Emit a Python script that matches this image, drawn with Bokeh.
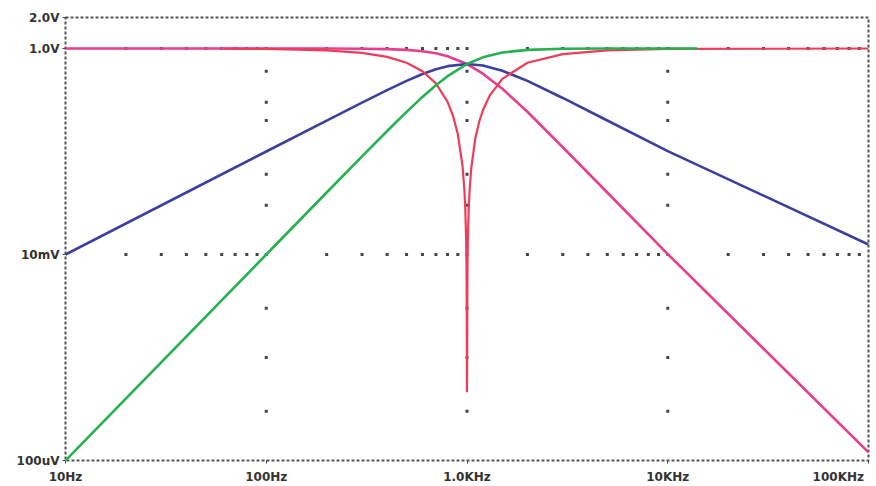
from bokeh.plotting import figure
from bokeh.models import Range1d, FixedTicker, CustomJSTickFormatter
from bokeh.embed import file_html
from bokeh.resources import INLINE

# ---- axes / ticks ----
freq_ticks = [10, 100, 1000, 10000, 100000]
freq_labels = ["10Hz", "100Hz", "1.0KHz", "10KHz", "100KHz"]
volt_ticks = [1e-4, 1e-2, 1.0, 2.0]
volt_labels = ["100uV", "10mV", "1.0V", "2.0V"]

# grid dot positions (PSpice style dotted grid)
grid_freqs = [100, 1000, 10000]
grid_volt_dots = [1.0, 0.6, 0.3, 0.2, 0.06, 0.03, 0.01, 0.003, 0.001, 0.0003]
grid_volts = [1.0, 0.01]
minor_mult = [2, 3, 4, 5, 6, 7, 8, 9]
decades = [10, 100, 1000, 10000]

# ---- series ----
# low-pass (magenta)
lp_f = [10, 100, 200, 300, 400, 500, 600, 700, 800, 1000, 1200, 1500, 2000, 3000, 5000, 10000, 100000]
lp_v = [1.0, 1.0, 0.9992, 0.996, 0.987, 0.970, 0.941, 0.898, 0.842, 0.707, 0.570, 0.406, 0.243, 0.110, 0.040, 0.0101, 0.00012]

# band-pass (blue)
bp_f = [10, 100, 200, 300, 400, 500, 600, 700, 800, 1000, 1200, 1500, 2000, 3000, 5000, 10000, 100000]
bp_v = [0.0100, 0.100, 0.1998, 0.2988, 0.395, 0.485, 0.565, 0.629, 0.674, 0.707, 0.685, 0.609, 0.485, 0.331, 0.200, 0.101, 0.0125]

# notch (red)
nt_f = [62, 100, 200, 300, 400, 500, 600, 700, 800, 850, 900, 950, 970, 980, 990, 995, 1000,
        1005, 1010, 1020, 1030, 1050, 1100, 1150, 1200, 1300, 1500, 2000, 3000, 5000, 10000, 100000]
nt_v = [0.997, 0.990, 0.960, 0.906, 0.830, 0.728, 0.602, 0.458, 0.303, 0.225, 0.148, 0.0724, 0.043, 0.0286, 0.0142, 0.0071, 0.00046,
        0.0071, 0.0141, 0.028, 0.0417, 0.0688, 0.134, 0.1945, 0.251, 0.351, 0.508, 0.728, 0.883, 0.959, 0.990, 1.0]

# high-pass (green)
hp_f = [10, 100, 200, 300, 400, 500, 600, 700, 800, 1000, 1200, 1500, 2000, 3000, 5000, 10000, 14000]
hp_v = [0.0001, 0.0100, 0.0400, 0.0896, 0.158, 0.2425, 0.339, 0.440, 0.539, 0.707, 0.821, 0.914, 0.970, 0.994, 0.9992, 1.0, 1.0]

LP_COLOR = "#e83e8c"
BP_COLOR = "#3d3f9e"
NT_COLOR = "#f03c5a"
HP_COLOR = "#25b150"
TEXT_COLOR = "#333333"

p = figure(width=876, height=486, x_axis_type="log", y_axis_type="log",
           x_range=Range1d(freq_ticks[0], freq_ticks[-1]),
           y_range=Range1d(volt_ticks[0], volt_ticks[-1]),
           output_backend="svg", toolbar_location=None,
           min_border_left=65, min_border_right=8,
           min_border_top=17, min_border_bottom=24)

p.background_fill_color = "white"
p.border_fill_color = "white"
p.outline_line_color = "#555555"
p.outline_line_width = 2
p.outline_line_dash = "3 2"
p.xgrid.grid_line_color = None
p.ygrid.grid_line_color = None

NEAREST_JS = """
    let best = 0, bd = 1e9;
    for (let i = 0; i < vt.length; i++) {
        const d = Math.abs(Math.log10(vt[i]) - Math.log10(tick));
        if (d < bd) { bd = d; best = i; }
    }
    return lb[best];
"""

# y axis
p.yaxis.ticker = FixedTicker(ticks=volt_ticks)
p.yaxis.formatter = CustomJSTickFormatter(args=dict(vt=volt_ticks, lb=volt_labels), code=NEAREST_JS)
p.yaxis.minor_tick_line_color = None
p.yaxis.axis_line_color = None
p.yaxis.major_tick_line_color = "#444444"
p.yaxis.major_tick_in = 0
p.yaxis.major_tick_out = 3
p.yaxis.major_label_standoff = 3
p.yaxis.major_label_text_font = "DejaVu Sans"
p.yaxis.major_label_text_font_style = "bold"
p.yaxis.major_label_text_font_size = "12px"
p.yaxis.major_label_text_color = TEXT_COLOR

# x axis; the last label is padded with no-break spaces so that it ends at the
# frame's right edge instead of being centred on it (as in the reference)
x_display = list(freq_labels)
x_display[-1] = x_display[-1] + "\u00a0" * 3
p.xaxis.ticker = FixedTicker(ticks=freq_ticks)
p.xaxis.formatter = CustomJSTickFormatter(args=dict(vt=freq_ticks, lb=x_display), code=NEAREST_JS)
p.xaxis.minor_tick_line_color = None
p.xaxis.axis_line_color = None
p.xaxis.major_tick_line_color = "#444444"
p.xaxis.major_tick_in = 0
p.xaxis.major_tick_out = 3
p.xaxis.major_label_standoff = 6
p.xaxis.major_label_text_line_height = 1.0
p.xaxis.major_label_text_font = "DejaVu Sans"
p.xaxis.major_label_text_font_style = "bold"
p.xaxis.major_label_text_font_size = "12px"
p.xaxis.major_label_text_color = TEXT_COLOR

# grid dots
gx, gy = [], []
for gv in grid_volts:
    for d in decades:
        for m in minor_mult:
            gx.append(m * d)
            gy.append(gv)
for gf in grid_freqs:
    for gv in grid_volt_dots:
        gx.append(gf)
        gy.append(gv)
p.scatter(gx, gy, marker="square", size=3, fill_color="#444444", line_color=None)

# curves
p.line(lp_f, lp_v, line_color=LP_COLOR, line_width=2.6)
p.line(bp_f, bp_v, line_color=BP_COLOR, line_width=2.6)
p.line(nt_f, nt_v, line_color=NT_COLOR, line_width=2.2)
p.line(hp_f, hp_v, line_color=HP_COLOR, line_width=2.6)

open("out.html", "w").write(file_html(p, INLINE))
